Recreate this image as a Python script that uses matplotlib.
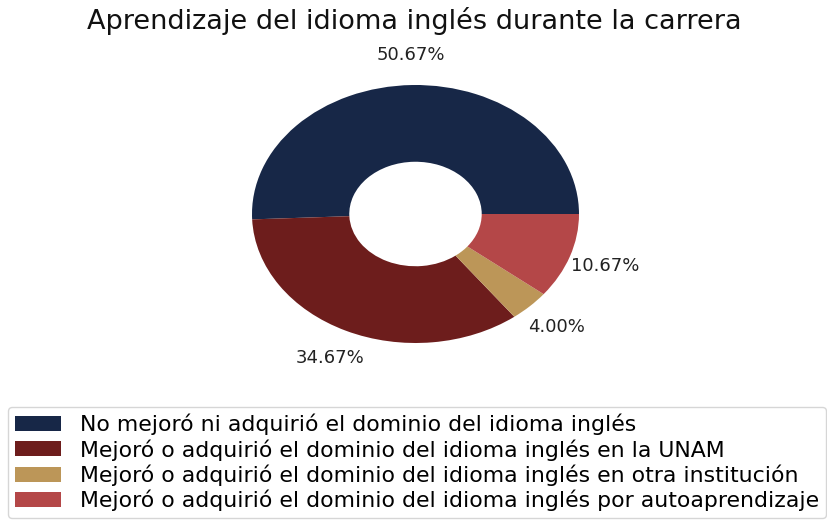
import matplotlib.pyplot as plt

categorias = [
    'No mejoró ni adquirió el dominio del idioma inglés',
    'Mejoró o adquirió el dominio del idioma inglés en la UNAM',
    'Mejoró o adquirió el dominio del idioma inglés en otra institución',
    'Mejoró o adquirió el dominio del idioma inglés por autoaprendizaje',
]
porcentajes = [50.67, 34.67, 4.00, 10.67]
colores = ['#172747', '#6d1d1c', '#bc9658', '#b44748']

fig = plt.figure(figsize=(8.28, 5.23), dpi=100)
W, H = 828, 523
# pie bounding box in pixels (stretched ellipse like the reference)
x0, x1, y0, y1 = 252, 579, 85, 343
ax = fig.add_axes([x0 / W, 1 - y1 / H, (x1 - x0) / W, (y1 - y0) / H])

etiquetas = iter(porcentajes)
wedges, texts, autotexts = ax.pie(
    porcentajes, colors=colores, startangle=0, counterclock=True,
    autopct=lambda p: f'{next(etiquetas):.2f}%', pctdistance=1.23, radius=1,
    wedgeprops=dict(width=0.595, edgecolor='none'),
    textprops=dict(fontsize=13, color='#222222'),
)
ax.set_aspect('auto')
ax.set_xlim(-1, 1)
ax.set_ylim(-1, 1)
ax.axis('off')

fig.text(0.5, 1 - 21 / H, 'Aprendizaje del idioma inglés durante la carrera',
         ha='center', va='center', fontsize=19.5, color='#111111')

fig.legend(wedges, categorias, loc='lower left', mode='expand',
           bbox_to_anchor=(8 / W, 5 / H, 818 / W, 110 / H), fontsize=15.8,
           frameon=True, handlelength=2.1, handleheight=0.65,
           handletextpad=0.9, labelspacing=0.18, borderpad=0.3,
           borderaxespad=0, edgecolor='#cccccc', fancybox=True)

fig.savefig('out.png', dpi=100)
